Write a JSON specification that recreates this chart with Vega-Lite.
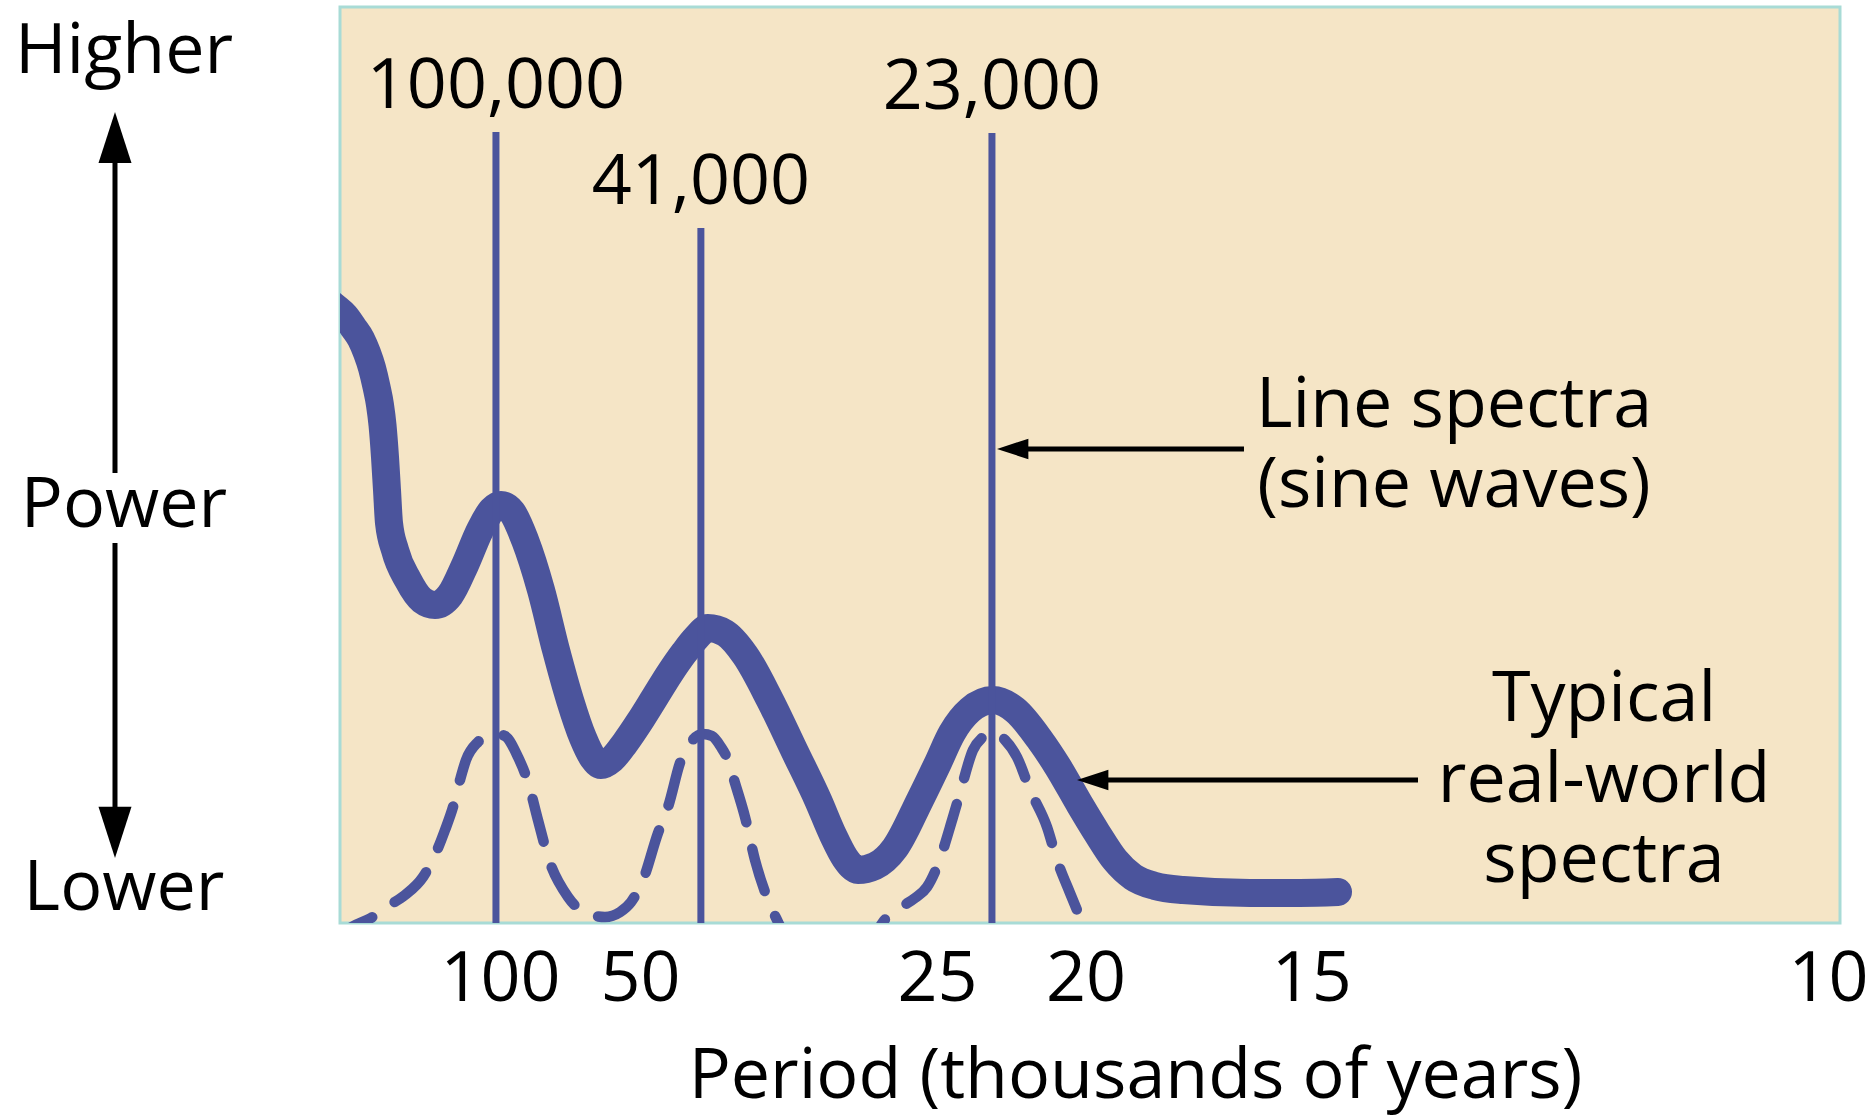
{
  "$schema": "https://vega.github.io/schema/vega-lite/v6.json",
  "width": 1500,
  "height": 916,
  "autosize": {"type": "none"},
  "padding": {"left": 340, "top": 7, "right": 36, "bottom": 197},
  "background": "white",
  "config": {
    "view": {"fill": "#f5e5c6", "stroke": "#a8dbd6", "strokeWidth": 3},
    "font": "Open Sans",
    "text": {"font": "Open Sans", "fontSize": 70, "color": "black"}
  },
  "datasets": {
    "thick": [
      {"freq": -0.001414, "power": 68.34}, {"freq": -0.000539, "power": 67.25}, {"freq": 0.000135, "power": 66.27},
      {"freq": 0.000673, "power": 65.07}, {"freq": 0.001212, "power": 63.76}, {"freq": 0.001616, "power": 62.23},
      {"freq": 0.001953, "power": 60.59}, {"freq": 0.002256, "power": 58.52}, {"freq": 0.002492, "power": 56.55},
      {"freq": 0.00266, "power": 54.37}, {"freq": 0.002828, "power": 50.87}, {"freq": 0.002963, "power": 47.27},
      {"freq": 0.003098, "power": 43.67}, {"freq": 0.003502, "power": 40.72}, {"freq": 0.004377, "power": 37.45},
      {"freq": 0.00532, "power": 35.26}, {"freq": 0.006195, "power": 34.72},
      {"freq": 0.007205, "power": 35.81}, {"freq": 0.008215, "power": 39.08}, {"freq": 0.009226, "power": 42.9},
      {"freq": 0.010034, "power": 45.09}, {"freq": 0.01064, "power": 45.63}, {"freq": 0.01138, "power": 44.87},
      {"freq": 0.012256, "power": 41.81}, {"freq": 0.013333, "power": 36.35}, {"freq": 0.014343, "power": 29.8},
      {"freq": 0.015286, "power": 24.34}, {"freq": 0.016162, "power": 20.2}, {"freq": 0.016835, "power": 18.01},
      {"freq": 0.017374, "power": 17.25}, {"freq": 0.018114, "power": 17.9}, {"freq": 0.01899, "power": 19.65},
      {"freq": 0.02, "power": 22.05}, {"freq": 0.02101, "power": 24.67}, {"freq": 0.02202, "power": 27.29},
      {"freq": 0.022963, "power": 29.48}, {"freq": 0.023771, "power": 31.11}, {"freq": 0.024579, "power": 32.2},
      {"freq": 0.025724, "power": 31.66}, {"freq": 0.027071, "power": 29.26}, {"freq": 0.028754, "power": 24.34},
      {"freq": 0.030438, "power": 18.67}, {"freq": 0.031987, "power": 13.43}, {"freq": 0.032997, "power": 9.61},
      {"freq": 0.033805, "power": 7.1}, {"freq": 0.03468, "power": 5.79}, {"freq": 0.035825, "power": 6.22},
      {"freq": 0.037172, "power": 8.19}, {"freq": 0.038855, "power": 13.43}, {"freq": 0.04, "power": 17.25},
      {"freq": 0.04101, "power": 20.74}, {"freq": 0.042222, "power": 23.25}, {"freq": 0.043771, "power": 24.34},
      {"freq": 0.045253, "power": 23.25}, {"freq": 0.046936, "power": 19.98}, {"freq": 0.048148, "power": 17.03},
      {"freq": 0.04963, "power": 12.88}, {"freq": 0.050774, "power": 9.83}, {"freq": 0.051987, "power": 6.88},
      {"freq": 0.053199, "power": 5.02}, {"freq": 0.05468, "power": 4.04}, {"freq": 0.056566, "power": 3.6},
      {"freq": 0.061077, "power": 3.28}, {"freq": 0.064444, "power": 3.28}, {"freq": 0.067003, "power": 3.38}
    ],
    "dashed": [
      {"freq": -0.000539, "power": -1.86}, {"freq": 0.000471, "power": -0.55}, {"freq": 0.001886, "power": 0.55},
      {"freq": 0.003165, "power": 1.97}, {"freq": 0.004175, "power": 3.06}, {"freq": 0.005387, "power": 5.02},
      {"freq": 0.006195, "power": 7.42}, {"freq": 0.006869, "power": 10.15}, {"freq": 0.007407, "power": 12.66},
      {"freq": 0.007879, "power": 15.61}, {"freq": 0.008283, "power": 17.79}, {"freq": 0.009091, "power": 19.76},
      {"freq": 0.009899, "power": 20.52}, {"freq": 0.01037, "power": 20.63}, {"freq": 0.010909, "power": 20.41},
      {"freq": 0.011785, "power": 18.12}, {"freq": 0.012458, "power": 15.39}, {"freq": 0.013131, "power": 11.24},
      {"freq": 0.013805, "power": 7.21}, {"freq": 0.015152, "power": 2.84}, {"freq": 0.0167, "power": 0.87},
      {"freq": 0.017643, "power": 0.66}, {"freq": 0.018653, "power": 1.2}, {"freq": 0.019394, "power": 2.29},
      {"freq": 0.020202, "power": 4.69}, {"freq": 0.021212, "power": 9.83}, {"freq": 0.021886, "power": 12.66},
      {"freq": 0.022761, "power": 17.79}, {"freq": 0.023434, "power": 19.76}, {"freq": 0.024242, "power": 20.63},
      {"freq": 0.024848, "power": 20.41}, {"freq": 0.025455, "power": 19.21}, {"freq": 0.025926, "power": 17.79},
      {"freq": 0.026397, "power": 15.28}, {"freq": 0.027071, "power": 11.57}, {"freq": 0.027744, "power": 6.88},
      {"freq": 0.02862, "power": 2.51}, {"freq": 0.029293, "power": 0.11}, {"freq": 0.030101, "power": -2.4},
      {"freq": 0.032795, "power": -7.31}, {"freq": 0.035488, "power": -2.4}, {"freq": 0.036364, "power": 0.11},
      {"freq": 0.037508, "power": 1.64}, {"freq": 0.038519, "power": 2.73}, {"freq": 0.039327, "power": 3.93},
      {"freq": 0.04, "power": 6.11}, {"freq": 0.041077, "power": 11.57}, {"freq": 0.041549, "power": 14.19},
      {"freq": 0.042424, "power": 18.89}, {"freq": 0.043098, "power": 20.31}, {"freq": 0.043771, "power": 20.85},
      {"freq": 0.044579, "power": 19.98}, {"freq": 0.045387, "power": 18.12}, {"freq": 0.046263, "power": 14.52},
      {"freq": 0.047407, "power": 10.48}, {"freq": 0.048081, "power": 6.88}, {"freq": 0.048956, "power": 3.28},
      {"freq": 0.049428, "power": 1.42}, {"freq": 0.049966, "power": -0.76}
    ],
    "lines": [
      {"period": "100,000", "freq": 0.0103, "power": 86.35},
      {"period": "41,000", "freq": 0.0241, "power": 75.87},
      {"period": "23,000", "freq": 0.0437, "power": 86.24}
    ],
    "ticks": [
      {"freq": 0.0103}, {"freq": 0.02}, {"freq": 0.04}, {"freq": 0.05}, {"freq": 0.0652}, {"freq": 0.1}
    ],
    "notes": [
      {"text": ["Higher"], "freq": -0.014747, "power": 92.79},
      {"text": ["Power"], "freq": -0.014747, "power": 43.23},
      {"text": ["Lower"], "freq": -0.014747, "power": 1.42},
      {"text": ["Line spectra", "(sine waves)"], "freq": 0.074815, "power": 54.15},
      {"text": ["Typical", "real-world", "spectra"], "freq": 0.084916, "power": 22.05}
    ],
    "shafts": [
      {"freq": -0.015354, "freq2": -0.015354, "power": 49.13, "power2": 84.93},
      {"freq": -0.015354, "freq2": -0.015354, "power": 41.48, "power2": 10.7},
      {"freq": 0.060673, "freq2": 0.046, "power": 51.75, "power2": 51.75},
      {"freq": 0.072391, "freq2": 0.05138, "power": 15.61, "power2": 15.61}
    ],
    "heads": [
      {"dir": "up", "freq": -0.015354, "power": 88.54},
      {"dir": "down", "freq": -0.015354, "power": 7.1},
      {"dir": "left", "freq": 0.04404, "power": 51.75},
      {"dir": "left", "freq": 0.049428, "power": 15.61}
    ]
  },
  "encoding": {
    "x": {
      "field": "freq",
      "type": "quantitative",
      "scale": {"domain": [-0.000202, 0.100808], "nice": false, "zero": false},
      "axis": {
        "values": [0.01057, 0.02, 0.04, 0.05, 0.0652, 0.1],
        "labelExpr": "datum.value < 0.015 ? '100' : format(1/datum.value, '.0f')",
        "title": "Period (thousands of years)",
        "domain": false,
        "ticks": false,
        "tickSize": 0,
        "grid": false,
        "labelFont": "Open Sans",
        "labelFontSize": 70,
        "labelColor": "black",
        "labelPadding": 77,
        "labelBaseline": "alphabetic",
        "labelAlign": "center",
        "labelFlush": false,
        "labelOverlap": false,
        "titleFont": "Open Sans",
        "titleFontSize": 70,
        "titleFontWeight": "normal",
        "titleColor": "black",
        "titleX": 795,
        "titleY": 174,
        "titleBaseline": "alphabetic",
        "titleAlign": "center"
      }
    },
    "y": {
      "field": "power",
      "type": "quantitative",
      "scale": {"domain": [0, 100], "nice": false, "zero": false},
      "axis": null
    }
  },
  "layer": [
    {
      "data": {"name": "thick"},
      "mark": {"type": "line", "color": "#4b549c", "strokeWidth": 28, "strokeCap": "round", "strokeJoin": "round", "interpolate": "monotone", "clip": true}
    },
    {
      "data": {"name": "dashed"},
      "mark": {"type": "line", "color": "#4b549c", "strokeWidth": 10.5, "strokeCap": "round", "strokeDash": [44, 27], "interpolate": "monotone", "clip": true}
    },
    {
      "data": {"name": "ticks"},
      "mark": {"type": "rule", "color": "#a8dbd6", "strokeWidth": 3.5},
      "encoding": {"y": {"datum": 0}, "y2": {"datum": 3.3}}
    },
    {
      "data": {"name": "lines"},
      "mark": {"type": "rule", "color": "#4b549c", "strokeWidth": 7},
      "encoding": {"y": {"datum": 0}, "y2": {"field": "power"}}
    },
    {
      "data": {"name": "lines"},
      "mark": {"type": "text", "align": "center", "baseline": "alphabetic", "dy": -24, "fontSize": 70},
      "encoding": {"text": {"field": "period"}}
    },
    {
      "data": {"name": "notes"},
      "mark": {"type": "text", "align": "center", "baseline": "alphabetic", "lineHeight": 80.5, "fontSize": 70, "clip": false},
      "encoding": {"text": {"field": "text"}}
    },
    {
      "data": {"name": "shafts"},
      "mark": {"type": "rule", "color": "black", "strokeWidth": 5, "clip": false},
      "encoding": {"x2": {"field": "freq2"}, "y2": {"field": "power2"}}
    },
    {
      "data": {"name": "heads"},
      "mark": {"type": "point", "filled": true, "opacity": 1, "size": 1089, "color": "black", "strokeWidth": 0, "clip": false},
      "encoding": {
        "shape": {
          "field": "dir",
          "type": "nominal",
          "scale": {"domain": ["up", "down", "left"], "range": ["M0,0L1,3.1L-1,3.1Z", "M0,0L1,-3.1L-1,-3.1Z", "M0,0L1.9,-0.62L1.9,0.62Z"]},
          "legend": null
        }
      }
    }
  ]
}
